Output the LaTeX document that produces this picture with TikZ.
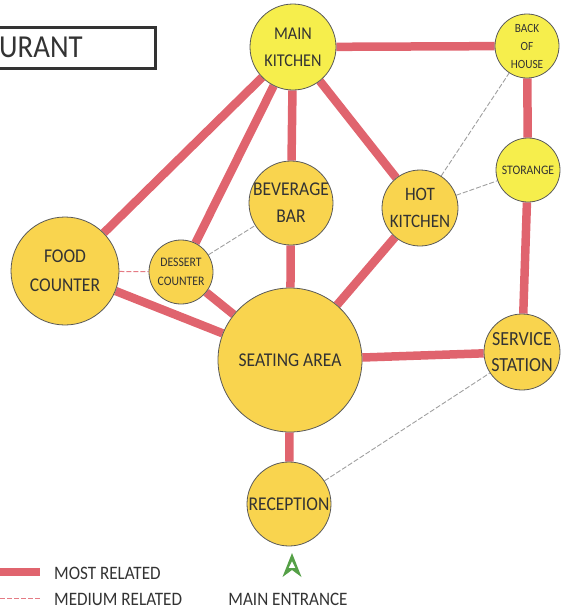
\documentclass[tikz,border=0pt]{standalone}
\usepackage{fontspec}
\setmainfont{Carlito}[FakeStretch=0.9]
\usetikzlibrary{backgrounds}
\definecolor{relred}{HTML}{E0646E}
\definecolor{lemon}{HTML}{F6EE4C}
\definecolor{gold}{HTML}{F9D44E}
\definecolor{txt}{HTML}{333333}
\definecolor{arrowgreen}{HTML}{55A047}
\begin{document}
\begin{tikzpicture}[x=1pt,y=-1pt,
  room/.style={circle, draw=black!65, line width=0.8pt, fill=gold, inner sep=0pt, minimum size=#1},
  lbl/.style={text=txt, align=center, inner sep=0pt},
  most/.style={relred, line width=8.5pt},
  medium/.style={gray!75, line width=0.9pt, dash pattern=on 5pt off 2pt},
  mediumpink/.style={relred!85, line width=1pt, dash pattern=on 5pt off 2pt},
  legtext/.style={text=txt, anchor=west, inner sep=0pt, font=\fontsize{19}{19}\selectfont}
]
\useasboundingbox (0,0) rectangle (561,611);

% title box
\draw[line width=3pt, black!80] (-10,27) rectangle (155,68);
\node[anchor=west, inner sep=0pt, text=txt, font=\fontsize{32}{32}\selectfont] (title) at (-1,47) {URANT};

% rooms
\node[room=86, fill=lemon, label={[lbl, font=\fontsize{18}{27}\selectfont]center:MAIN\\KITCHEN}] (mk) at (293,47) {};
\node[room=64, fill=lemon, label={[lbl, font=\fontsize{12.5}{18}\selectfont]center:BACK\\OF\\HOUSE}] (boh) at (527,46) {};
\node[room=64, fill=lemon, label={[lbl, font=\fontsize{13}{13}\selectfont]center:STORANGE}] (sto) at (528,170) {};
\node[room=76, label={[lbl, font=\fontsize{19}{27}\selectfont]center:HOT\\KITCHEN}] (hk) at (420,208) {};
\node[room=84, label={[lbl, font=\fontsize{19.5}{27}\selectfont]center:BEVERAGE\\BAR}] (bev) at (291,203) {};
\node[room=64, label={[lbl, font=\fontsize{13}{19}\selectfont]center:DESSERT\\COUNTER}] (des) at (181,272) {};
\node[room=108, label={[lbl, font=\fontsize{19.5}{29}\selectfont]center:FOOD\\COUNTER}] (food) at (65,271) {};
\node[room=144, label={[lbl, font=\fontsize{19.5}{19.5}\selectfont]center:SEATING AREA}] (seat) at (290,360) {};
\node[room=76, label={[lbl, font=\fontsize{20}{26}\selectfont]center:SERVICE\\STATION}] (svc) at (522,352) {};
\node[room=84, label={[lbl, font=\fontsize{19.5}{19.5}\selectfont]center:RECEPTION}] (rec) at (289,504) {};

% connectors
\begin{scope}[on background layer]
\draw[most] (mk) -- (boh);
\draw[most] (mk) -- (food);
\draw[most] (mk) -- (des);
\draw[most] (mk) -- (bev);
\draw[most] (mk) -- (hk);
\draw[most] (boh) -- (sto);
\draw[most] (sto) -- (svc);
\draw[most] (svc) -- (seat);
\draw[most] (seat) -- (rec);
\draw[most] (seat) -- (bev);
\draw[most] (seat) -- (hk);
\draw[most] (seat) -- (des);
\draw[most] (seat) -- (food);
\draw[mediumpink] (food) -- (des);
\draw[medium] (des) -- (bev);
\draw[medium] (hk) -- (boh);
\draw[medium] (hk) -- (sto);
\draw[medium] (rec) -- (svc);
\end{scope}

% legend
\coordinate (la) at (0,572);
\coordinate (lb) at (40,572);
\coordinate (lc) at (0,598);
\coordinate (ld) at (40,598);
\draw[most] (la) -- (lb);
\draw[mediumpink] (lc) -- (ld);
\node[legtext] (most) at (54,573) {MOST RELATED};
\node[legtext] (med) at (54,599) {MEDIUM RELATED};

% main entrance
\fill[arrowgreen, even odd rule] (292,553) -- (301.5,577) -- (292,570) -- (282.5,577) -- cycle
  (292,561) -- (295.5,568) -- (288.5,568) -- cycle;
\node[text=txt, inner sep=0pt, font=\fontsize{19}{19}\selectfont] (entr) at (288,599) {MAIN ENTRANCE};
\end{tikzpicture}
\end{document}
